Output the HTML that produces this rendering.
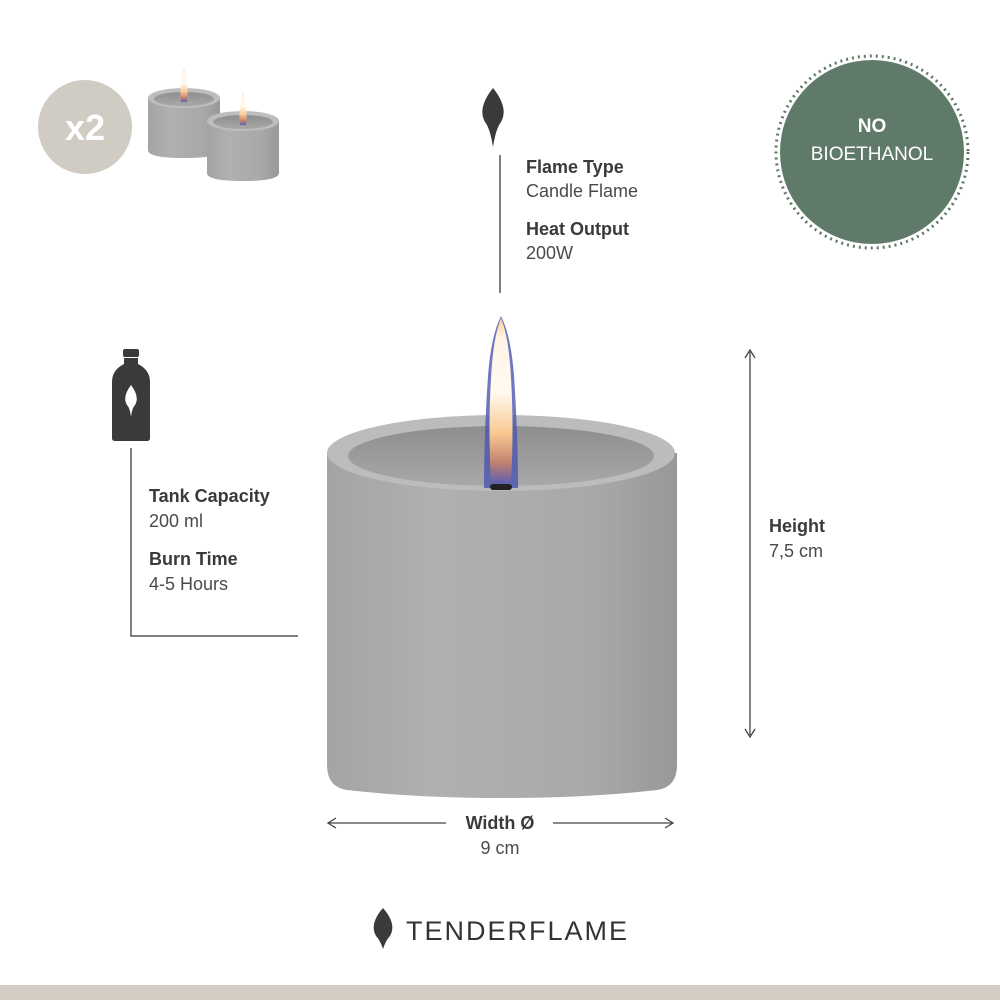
<!DOCTYPE html>
<html><head><style>
body{margin:0;background:#fff;}
svg{display:block;font-family:"Liberation Sans",sans-serif;}
.b{font-weight:bold;fill:#3a3a3a;font-size:18px;}
.r{fill:#4a4a4a;font-size:18px;}
</style></head><body>
<svg width="1000" height="1000" viewBox="0 0 1000 1000">
<defs>
<linearGradient id="body" x1="0" x2="1">
<stop offset="0" stop-color="#a4a4a4"/><stop offset="0.3" stop-color="#b0b0b0"/><stop offset="0.75" stop-color="#a9a9a9"/><stop offset="1" stop-color="#989898"/></linearGradient>
<linearGradient id="flame" x1="0" y1="0" x2="0" y2="1">
<stop offset="0" stop-color="#ffcf90"/><stop offset="0.12" stop-color="#fff4e4"/><stop offset="0.45" stop-color="#fffaf0"/><stop offset="0.7" stop-color="#f8c890"/><stop offset="0.88" stop-color="#c08070"/><stop offset="1" stop-color="#6060b0"/></linearGradient>
<linearGradient id="inner" x1="0" y1="0" x2="0" y2="1"><stop offset="0" stop-color="#8e8e8e"/><stop offset="1" stop-color="#a8a8a8"/></linearGradient>
</defs>
<circle cx="85" cy="127" r="47" fill="#d0cbc3"/>
<text x="85" y="140" text-anchor="middle" font-size="36" font-weight="bold" fill="#fff">x2</text>
<g>
<path d="M148 98 v52 q0 8 36 8 q36 0 36 -8 v-52 z" fill="url(#body)"/>
<ellipse cx="184" cy="98" rx="36" ry="10" fill="#bdbdbd"/>
<ellipse cx="184" cy="99" rx="30" ry="7" fill="url(#inner)"/>
<path d="M184 68 q-5 18 -3 34 h6 q2 -16 -3 -34z" fill="url(#flame)"/>
<path d="M207 121 v52 q0 8 36 8 q36 0 36 -8 v-52 z" fill="url(#body)"/>
<ellipse cx="243" cy="121" rx="36" ry="10" fill="#bdbdbd"/>
<ellipse cx="243" cy="122" rx="30" ry="7" fill="url(#inner)"/>
<path d="M243 91 q-5 18 -3 34 h6 q2 -16 -3 -34z" fill="url(#flame)"/>
</g>
<circle cx="872" cy="152" r="92" fill="#5f7a69"/>
<circle cx="872" cy="152" r="96" fill="none" stroke="#5f7a69" stroke-width="3" stroke-dasharray="2 4"/>
<text x="872" y="132" text-anchor="middle" font-size="19" font-weight="bold" fill="#fff">NO</text>
<text x="872" y="160" text-anchor="middle" font-size="19" fill="#fff">BIOETHANOL</text>
<path d="M493 88 q-16 20 -8 34 q5 6 8 25 q3 -19 8 -25 q8 -14 -8 -34z" fill="#3a3a3a"/>
<line x1="500" y1="155" x2="500" y2="293" stroke="#555" stroke-width="1.5"/>
<text x="526" y="173" class="b">Flame Type</text>
<text x="526" y="197" class="r">Candle Flame</text>
<text x="526" y="235" class="b">Heat Output</text>
<text x="526" y="259" class="r">200W</text>
<rect x="123" y="349" width="16" height="8" rx="2" fill="#3a3a3a"/>
<path d="M124 358 h14 v6 q12 6 12 18 v56 q0 3 -3 3 h-32 q-3 0 -3 -3 v-56 q0 -12 12 -18z" fill="#3a3a3a"/>
<path d="M131 385 q-9 12 -4 20 q3 3 4 12 q1 -9 4 -12 q5 -8 -4 -20z" fill="#fff"/>
<polyline points="131,448 131,636 298,636" fill="none" stroke="#555" stroke-width="1.5"/>
<text x="149" y="502" class="b">Tank Capacity</text>
<text x="149" y="527" class="r">200 ml</text>
<text x="149" y="565" class="b">Burn Time</text>
<text x="149" y="590" class="r">4-5 Hours</text>
<path d="M327 453 V765 q0 22 20 25 q70 8 155 8 q85 0 155 -8 q20 -3 20 -25 V453 z" fill="url(#body)"/>
<ellipse cx="501" cy="453" rx="174" ry="38" fill="#bcbcbc"/>
<ellipse cx="501" cy="456" rx="153" ry="30" fill="url(#inner)"/>
<path d="M501 316 q-10 20 -13 60 q-4 60 -4 112 h34 q0 -52 -4 -112 q-3 -40 -13 -60z" fill="#4a55b0" opacity="0.8"/>
<path d="M501 318 q-8 20 -10 60 q-3 50 0 105 h20 q3 -55 0 -105 q-2 -40 -10 -60z" fill="url(#flame)"/>
<rect x="490" y="484" width="22" height="6" rx="3" fill="#222"/>
<line x1="750" y1="352" x2="750" y2="735" stroke="#444" stroke-width="1.3"/>
<path d="M745 358 L750 350 L755 358 M745 729 L750 737 L755 729" fill="none" stroke="#444" stroke-width="1.3"/>
<text x="769" y="532" class="b">Height</text>
<text x="769" y="557" class="r">7,5 cm</text>
<line x1="329" y1="823" x2="446" y2="823" stroke="#444" stroke-width="1.3"/>
<line x1="553" y1="823" x2="672" y2="823" stroke="#444" stroke-width="1.3"/>
<path d="M336 818 L328 823 L336 828 M665 818 L673 823 L665 828" fill="none" stroke="#444" stroke-width="1.3"/>
<text x="500" y="829" text-anchor="middle" class="b">Width Ø</text>
<text x="500" y="854" text-anchor="middle" class="r">9 cm</text>
<path d="M383 908 q-14 16 -7 28 q4 4 7 13 q3 -9 7 -13 q7 -12 -7 -28z" fill="#3a3a3a"/>
<text x="406" y="940" font-size="27" fill="#333" letter-spacing="2">TENDERFLAME</text>
<rect x="0" y="985" width="1000" height="15" fill="#d3cdc3"/>
</svg>
</body></html>
